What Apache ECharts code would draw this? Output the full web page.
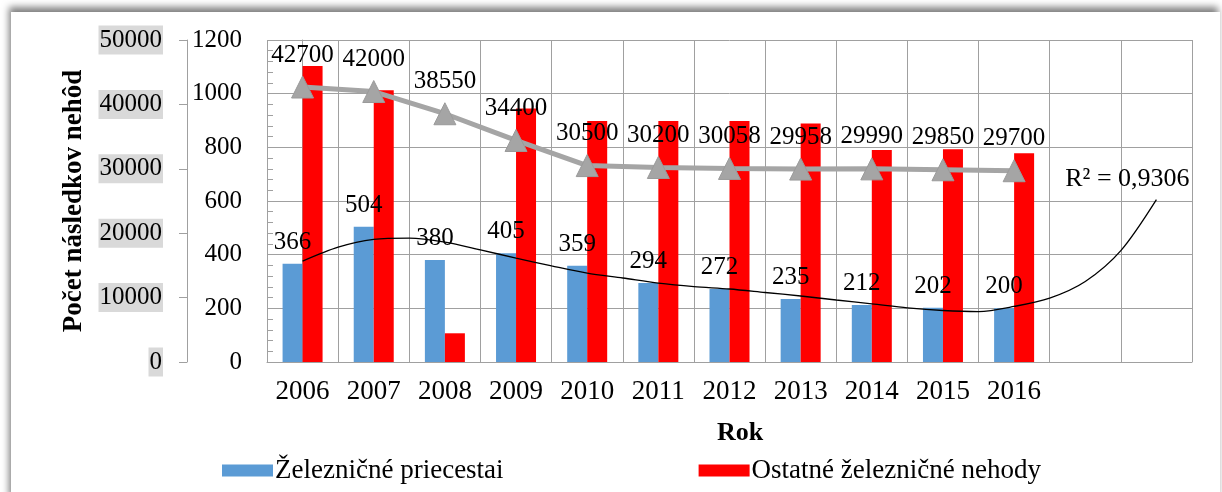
<!DOCTYPE html>
<html>
<head>
<meta charset="utf-8">
<script src="https://cdn.jsdelivr.net/npm/echarts@6/dist/echarts.min.js"></script>
<style>
  html, body { margin: 0; padding: 0; background: #fff; }
  #frame {
    position: absolute; left: 11px; top: 12px; width: 1209px; height: 490px;
    background: #fff; box-shadow: -2px -5px 7px rgba(0, 0, 0, 0.5);
  }
  #chart { position: absolute; left: 0; top: 0; width: 1222px; height: 492px; }
</style>
</head>
<body>
<div id="frame"></div>
<div id="chart"></div>
<script>
// categories (two empty slots for the forecast part of the trend)
const years = ['2006', '2007', '2008', '2009', '2010', '2011', '2012', '2013', '2014', '2015', '2016', '', '']
const priecestia = [366, 504, 380, 405, 359, 294, 272, 235, 212, 202, 200]
const ostatne = [1103, 1013, 107, 945, 898, 898, 898, 889, 790, 793, 778]
const nasledky = [42700, 42000, 38550, 34400, 30500, 30200, 30058, 29958, 29990, 29850, 29700]
// polynomial trend of priecestia, every half year (category index)
const trendX = [0, 0.5, 1, 1.5, 2, 2.5, 3, 3.5, 4, 4.5, 5, 5.5, 6, 6.5, 7, 7.5, 8, 8.5, 9, 9.5, 10, 10.5, 11, 11.5, 12]
const trendY = [376, 428, 457, 462, 447, 418, 387, 358, 331, 313, 294, 281, 272, 259, 246, 231, 217, 202, 192, 188, 207, 238, 300, 415, 605]
const r2Text = 'R² = 0,9306'
const leftTicks = { min: 0, max: 1200, interval: 200 }
const outerTicks = { min: 0, max: 50000, interval: 10000 }

const font = 'Liberation Serif'
const gridGrey = '#a0a0a0'

const chart = echarts.init(document.getElementById('chart'))

const trendData = trendX.map((x, i) => {
  if (i !== trendX.length - 1) return [x, trendY[i]]
  return {
    value: [x, trendY[i]],
    label: {
      show: true,
      formatter: r2Text,
      position: 'top',
      offset: [-29, -2],
      color: '#000',
      fontFamily: font,
      fontSize: 26,
    },
  }
})

const plain = (v) => String(v)

const option = {
  animation: false,
  backgroundColor: 'transparent',
  grid: { left: 267, right: 30, top: 40, bottom: 130 },
  legend: {
    left: 217,
    top: 452,
    itemWidth: 51,
    itemHeight: 12,
    itemGap: 195,
    icon: 'rect',
    data: ['Železničné priecestai', 'Ostatné železničné nehody'],
    textStyle: { fontFamily: font, fontSize: 27, color: '#000', padding: [0, 0, 0, -3] },
  },
  xAxis: [
    {
      type: 'category',
      data: years,
      name: 'Rok',
      nameLocation: 'middle',
      nameGap: 58,
      nameTextStyle: { fontFamily: font, fontSize: 26, fontWeight: 'bold', color: '#000', padding: [0, 0, 0, 21] },
      axisLine: { lineStyle: { color: gridGrey } },
      axisTick: { show: false },
      axisLabel: { fontFamily: font, fontSize: 27, color: '#000', margin: 16, interval: 0 },
      splitLine: { show: true, interval: 0, lineStyle: { color: gridGrey } },
    },
    {
      // hidden value axis for the trend line (category index units)
      type: 'value',
      min: -0.5,
      max: years.length - 0.5,
      show: false,
    },
  ],
  yAxis: [
    {
      type: 'value',
      ...leftTicks,
      position: 'left',
      axisLine: { show: true, lineStyle: { color: gridGrey } },
      axisTick: { show: true, length: 8, lineStyle: { color: gridGrey } },
      axisLabel: { fontFamily: font, fontSize: 25, color: '#000', margin: 25, formatter: plain },
      splitLine: { lineStyle: { color: gridGrey } },
    },
    {
      type: 'value',
      ...outerTicks,
      position: 'left',
      offset: 80,
      name: 'Počet následkov nehôd',
      nameLocation: 'middle',
      nameGap: 94,
      nameTextStyle: { fontFamily: font, fontSize: 27, fontWeight: 'bold', color: '#000' },
      axisLine: { show: true, lineStyle: { color: gridGrey } },
      axisTick: { show: true, length: 8, lineStyle: { color: gridGrey } },
      axisLabel: {
        fontFamily: font, fontSize: 25, color: '#000', margin: 24, formatter: plain,
        backgroundColor: '#d9d9d9', padding: [3, 1, 1, 1],
      },
      splitLine: { show: false },
    },
    {
      // inner minor ticks of the left axis
      type: 'value',
      ...leftTicks,
      position: 'left',
      axisLine: { show: false },
      axisTick: { show: false, inside: true },
      minorTick: { show: true, splitNumber: 5, length: 6, lineStyle: { color: gridGrey } },
      axisLabel: { show: false },
      splitLine: { show: false },
    },
  ],
  series: [
    {
      name: 'Železničné priecestai',
      type: 'bar',
      data: priecestia,
      barWidth: 20,
      barGap: '0%',
      itemStyle: { color: '#5b9bd5' },
      label: {
        show: true, position: 'top', distance: 9,
        fontFamily: font, fontSize: 25, color: '#000',
      },
    },
    {
      name: 'Ostatné železničné nehody',
      type: 'bar',
      data: ostatne,
      barWidth: 20,
      itemStyle: { color: '#ff0000' },
    },
    {
      name: 'Počet následkov',
      type: 'line',
      yAxisIndex: 1,
      data: nasledky,
      symbol: 'triangle',
      symbolSize: 22,
      lineStyle: { color: '#a5a5a5', width: 5 },
      itemStyle: { color: '#a5a5a5', borderColor: '#9a9a9a', borderWidth: 1 },
      label: {
        show: true, position: 'top', distance: 8,
        fontFamily: font, fontSize: 25, color: '#000',
      },
      z: 3,
    },
    {
      name: 'Trend',
      type: 'line',
      xAxisIndex: 1,
      data: trendData,
      smooth: 0.3,
      symbol: 'circle',
      symbolSize: 0,
      lineStyle: { color: '#000', width: 1.3 },
      itemStyle: { color: '#000' },
      z: 4,
    },
  ],
}

chart.setOption(option)
</script>
</body>
</html>
